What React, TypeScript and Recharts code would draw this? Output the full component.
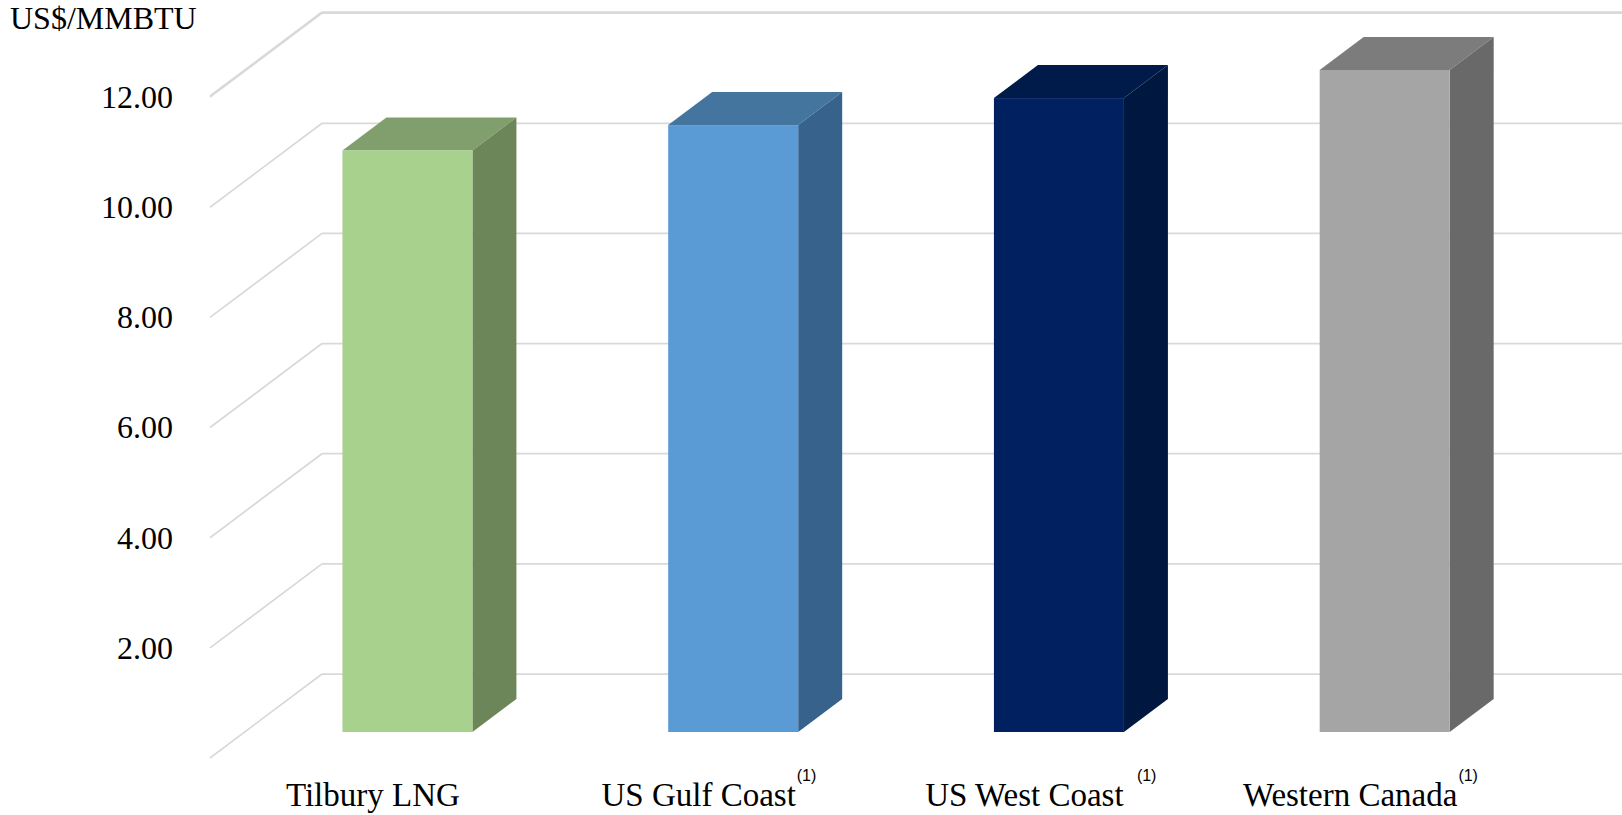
import React from 'react';
import { BarChart, Bar, XAxis, YAxis, CartesianGrid } from 'recharts';

document.body.style.margin = '0';

const categories = ['Tilbury LNG', 'US Gulf Coast', 'US West Coast', 'Western Canada'];
const prices = [10.56, 11.02, 11.51, 12.02];
const notes = ['', '(1)', '(1)', '(1)'];
const yTicks = [0, 2, 4, 6, 8, 10, 12];

const frontColors = ['#A9D18E', '#5B9BD5', '#002060', '#A5A5A5'];
const topColors = ['#809F6C', '#44759F', '#001A4A', '#7C7C7C'];
const sideColors = ['#6C8659', '#37628C', '#00173F', '#696969'];

const data = categories.map((name, i) => ({ name, price: prices[i] }));

const W = 1622;
const H = 815;
const GRID = '#D9D9D9';
const SERIF = "'Liberation Serif', 'Times New Roman', serif";
const SANS = "'Liberation Sans', Arial, sans-serif";

// oblique 3d look: floor depth from front plane to back wall
const WALL_DX = 112;
const WALL_DY = 84;
// bars stand a little behind the front plane, and have their own depth
const BAR_DX = 34.7;
const BAR_DY = 26;
const DEPTH_DX = 44;
const DEPTH_DY = 33;
// superscripts were placed by hand in the original
const NOTE_GAP = [0, 1, 13, 1];

const LABEL_FONT = `33px ${SERIF}`;
let ctx: CanvasRenderingContext2D | null = null;
function textWidth(s: string, font: string) {
  if (!ctx) ctx = document.createElement('canvas').getContext('2d');
  if (!ctx) return s.length * 16;
  ctx.font = font;
  return ctx.measureText(s).width;
}

// each horizontal grid line becomes a floor diagonal plus a back-wall line
function WallLine(props: any) {
  const { x1, y1 } = props;
  const bx = x1 + WALL_DX;
  const by = y1 - WALL_DY;
  return (
    <g>
      <line x1={x1} y1={y1} x2={bx} y2={by} stroke={GRID} strokeWidth={1.75} />
      <line x1={bx} y1={by} x2={W} y2={by} stroke={GRID} strokeWidth={1.75} />
    </g>
  );
}

function ValueTick({ x, y, payload }: any) {
  if (payload.value <= 0) return null;
  return (
    <text x={x - 37} y={y} dy="0.34em" textAnchor="end" fill="#000"
      fontFamily={SERIF} fontSize={32}>
      {payload.value.toFixed(2)}
    </text>
  );
}

function CategoryTick({ x, y, payload }: any) {
  const label = payload.value as string;
  const i = categories.indexOf(label);
  const w = textWidth(label, LABEL_FONT);
  return (
    <g>
      <text x={x} y={y + 48} textAnchor="middle" fill="#000" fontFamily={SERIF} fontSize={33}>
        {label}
      </text>
      {notes[i] && (
        <text x={x + w / 2 + NOTE_GAP[i]} y={y + 23} fill="#000" fontFamily={SANS} fontSize={16}>
          {notes[i]}
        </text>
      )}
    </g>
  );
}

function Prism(props: any) {
  const { x, y, width, height, index } = props;
  if (!height) return null;
  const fx = x + BAR_DX;
  const fy = y - BAR_DY;
  const fb = fy + height;
  const r = fx + width;
  return (
    <g>
      <polygon
        points={`${fx},${fy} ${fx + DEPTH_DX},${fy - DEPTH_DY} ${r + DEPTH_DX},${fy - DEPTH_DY} ${r},${fy}`}
        fill={topColors[index]}
      />
      <polygon
        points={`${r},${fy} ${r + DEPTH_DX},${fy - DEPTH_DY} ${r + DEPTH_DX},${fb - DEPTH_DY} ${r},${fb}`}
        fill={sideColors[index]}
      />
      <rect x={fx} y={fy} width={width} height={height} fill={frontColors[index]} />
    </g>
  );
}

export default function App() {
  return (
    <div style={{ position: 'relative', width: W, height: H, background: '#fff' }}>
      <BarChart
        width={W}
        height={H}
        data={data}
        margin={{ top: 96, right: 109, bottom: 0, left: 0 }}
        barCategoryGap="30%"
      >
        <CartesianGrid vertical={false} horizontal={WallLine} />
        <YAxis
          type="number"
          domain={[0, 12]}
          ticks={yTicks}
          interval={0}
          width={210}
          axisLine={false}
          tickLine={false}
          tickSize={0}
          tickMargin={0}
          tick={<ValueTick />}
        />
        <XAxis
          dataKey="name"
          height={57}
          axisLine={false}
          tickLine={false}
          tickSize={0}
          tickMargin={0}
          interval={0}
          tick={<CategoryTick />}
        />
        <Bar dataKey="price" shape={<Prism />} isAnimationActive={false} />
      </BarChart>
      <svg width={300} height={40} style={{ position: 'absolute', left: 0, top: 0 }}>
        <text x={10} y={29} fill="#000" fontFamily={SERIF} fontSize={32}>US$/MMBTU</text>
      </svg>
    </div>
  );
}
